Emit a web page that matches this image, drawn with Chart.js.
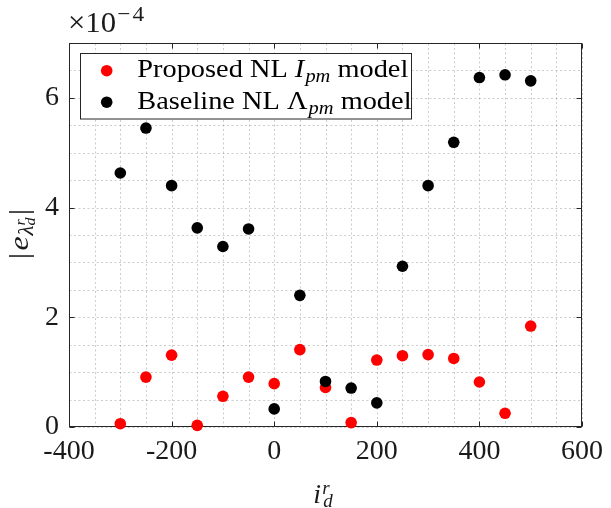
<!DOCTYPE html>
<html><head><meta charset="utf-8">
<script src="https://cdn.jsdelivr.net/npm/chart.js@4.4.0/dist/chart.umd.min.js"></script>
<style>html,body{margin:0;padding:0;background:#fff;}canvas{display:block;}</style>
</head><body>
<canvas id="c" width="611" height="508"></canvas>
<script>
// ---- data (values in units of 1e-4) ----
const currents = [-300,-250,-200,-150,-100,-50,0,50,100,150,200,250,300,350,400,450,500];
const proposedErr = [0.06,0.91,1.31,0.03,0.56,0.91,0.79,1.41,0.72,0.08,1.22,1.30,1.32,1.25,0.82,0.25,1.84];
const baselineErr = [4.63,5.45,4.40,3.63,3.29,3.61,0.33,2.40,0.83,0.71,0.44,2.93,4.40,5.19,6.37,6.42,6.31];
const xMajorTicks = [-400,-200,0,200,400,600];
const yMajorTicks = [0,2,4,6];
const exponentBase = '×10';
const exponentPower = ['−', '4'];
const seriesNames = ['Proposed NL', 'Baseline NL'];

const SERIF = '"Liberation Serif"';
const R = s => s + 'px ' + SERIF;
const I = s => 'italic ' + s + 'px ' + SERIF;
const AXIS_COLOR = '#262626';

function segWidth(ctx, segs){
  let w = 0;
  for (const s of segs){
    ctx.font = s.f;
    let sw = ctx.measureText(s.t).width;
    if (s.alt){ ctx.font = s.alt.f; sw = Math.max(sw, ctx.measureText(s.alt.t).width + (s.alt.dx||0)); }
    w += sw + (s.k||0);
  }
  return w;
}
function drawSegs(ctx, segs, x, y, sx){
  ctx.save();
  ctx.translate(x, y);
  ctx.scale(sx, 1);
  let cx = 0;
  for (const s of segs){
    ctx.font = s.f;
    ctx.fillText(s.t, cx, s.dy||0);
    let sw = ctx.measureText(s.t).width;
    if (s.alt){
      ctx.font = s.alt.f;
      ctx.fillText(s.alt.t, cx + (s.alt.dx||0), s.alt.dy||0);
      sw = Math.max(sw, ctx.measureText(s.alt.t).width + (s.alt.dx||0));
    }
    cx += sw + (s.k||0);
  }
  ctx.restore();
}

const decor = {
  id: 'decor',
  beforeDatasetsDraw(chart){
    const ctx = chart.ctx, a = chart.chartArea;
    const xs = chart.scales.x, ys = chart.scales.y;
    const L = Math.round(a.left)+0.5, Rr = Math.round(a.right)-0.5, T = Math.round(a.top)+0.5, B = Math.round(a.bottom)-0.5;
    ctx.save();
    ctx.strokeStyle = 'rgba(0,0,0,0.2)'; ctx.lineWidth = 1; ctx.setLineDash([2,2.5]);
    ctx.beginPath();
    for (const t of xs.ticks){
      const p = Math.round(xs.getPixelForValue(t.value)) + 0.5;
      ctx.moveTo(p, T); ctx.lineTo(p, B);
    }
    for (const t of ys.ticks){
      const p = Math.round(ys.getPixelForValue(t.value)) + 0.5;
      ctx.moveTo(L, p); ctx.lineTo(Rr, p);
    }
    ctx.stroke();
    ctx.setLineDash([]);
    ctx.strokeStyle = AXIS_COLOR; ctx.lineWidth = 1;
    ctx.strokeRect(L, T, Rr-L, B-T);
    ctx.beginPath();
    const tl = 5;
    for (const v of xMajorTicks){
      const p = Math.round(xs.getPixelForValue(v)) + 0.5;
      ctx.moveTo(p, B); ctx.lineTo(p, B - tl);
      ctx.moveTo(p, T); ctx.lineTo(p, T + tl);
    }
    for (const v of yMajorTicks){
      const p = Math.round(ys.getPixelForValue(v)) + 0.5;
      ctx.moveTo(L, p); ctx.lineTo(L + tl, p);
      ctx.moveTo(Rr, p); ctx.lineTo(Rr - tl, p);
    }
    ctx.stroke();
    ctx.restore();
  },
  afterDatasetsDraw(chart){
    const ctx = chart.ctx;
    ctx.save();
    const bx = 80.5, by = 53.5, bw = 331, bh = 65.5;
    ctx.fillStyle = '#fff'; ctx.fillRect(bx, by, bw, bh);
    ctx.strokeStyle = AXIS_COLOR; ctx.lineWidth = 1; ctx.strokeRect(bx, by, bw, bh);
    const colors = ['#ff0000', '#000000'];
    const my = [70.7, 102.2];
    const rows = [
      [{t: seriesNames[0] + ' ', f: R(25)}, {t:'I', f: I(25), k:1}, {t:'pm', f: I(18), dy: 5}, {t:' model', f: R(25)}],
      [{t: seriesNames[1] + ' ', f: R(25)}, {t:'Λ', f: R(25), k:1}, {t:'pm', f: I(18), dy: 5}, {t:' model', f: R(25)}]
    ];
    const sx = 271 / segWidth(ctx, rows[0]);
    for (let i=0;i<2;i++){
      ctx.fillStyle = colors[i];
      ctx.beginPath(); ctx.arc(106.7, my[i], 5.8, 0, Math.PI*2); ctx.fill();
      ctx.fillStyle = '#000';
      ctx.textBaseline = 'alphabetic'; ctx.textAlign = 'left';
      drawSegs(ctx, rows[i], 137.3, my[i] + 6.3, sx);
    }
    ctx.restore();
  },
  afterDraw(chart){
    const ctx = chart.ctx;
    ctx.save();
    ctx.fillStyle = '#1a1a1a';
    ctx.textBaseline = 'alphabetic'; ctx.textAlign = 'left';
    drawSegs(ctx, [{t: exponentBase, f: R(29), k: 1}, {t: exponentPower[0], f: R(22), dy: -11, k: 2}, {t: exponentPower[1], f: R(22), dy: -11}], 68, 31.7, 1.06);
    const xt = [{t:'i', f: I(28), k: 1}, {t:'r', f: I(19), dy: -9, alt: {t:'d', f: I(19), dy: 4, dx: 1}}];
    const xw = segWidth(ctx, xt);
    drawSegs(ctx, xt, 323 - xw/2, 503, 1);
    const yt = [{t:'|', f: R(28), k: 2}, {t:'e', f: I(28), k: 0.5}, {t:'λ', f: I(20), dy: 5, k: 0},
                {t:'r', f: I(14), dy: -3, alt: {t:'d', f: I(14), dy: 7}, k: 2}, {t:'|', f: R(28)}];
    const yw = segWidth(ctx, yt);
    ctx.translate(28, 234);
    ctx.rotate(-Math.PI/2);
    drawSegs(ctx, yt, -yw*1.15/2, 0, 1.15);
    ctx.restore();
  }
};

const chart = new Chart(document.getElementById('c'), {
  type: 'scatter',
  data: {
    datasets: [
      { label: 'Proposed NL I_pm model', data: currents.map((x,i)=>({x, y: proposedErr[i]})),
        backgroundColor: '#ff0000', borderColor: '#ff0000', pointRadius: 5.8, pointBorderWidth: 0, order: 1, clip: false },
      { label: 'Baseline NL Λ_pm model', data: currents.map((x,i)=>({x, y: baselineErr[i]})),
        backgroundColor: '#000000', borderColor: '#000000', pointRadius: 5.8, pointBorderWidth: 0, order: 0, clip: false }
    ]
  },
  options: {
    responsive: false, animation: false, events: [],
    devicePixelRatio: 1,
    layout: { padding: { left: 0, right: 22.5, top: 43, bottom: 0 } },
    plugins: { legend: { display: false }, tooltip: { enabled: false } },
    scales: {
      x: {
        type: 'linear', min: -400, max: 600,
        afterFit: s => { s.height = 81; },
        border: { display: false },
        grid: { display: false, drawTicks: false },
        ticks: { stepSize: 50, autoSkip: false, maxRotation: 0, minRotation: 0, padding: 8,
                 color: '#1a1a1a', font: { family: SERIF, size: 28 },
                 callback: v => xMajorTicks.includes(v) ? String(v) : '' }
      },
      y: {
        type: 'linear', min: 0, max: 7,
        afterFit: s => { s.width = 69; },
        border: { display: false },
        grid: { display: false, drawTicks: false },
        ticks: { stepSize: 0.5, autoSkip: false, padding: 10,
                 color: '#1a1a1a', font: { family: SERIF, size: 28 },
                 callback: v => yMajorTicks.includes(v) ? String(v) : '' }
      }
    }
  },
  plugins: [decor]
});
if (document.fonts && document.fonts.load) {
  Promise.all([R(28), I(28), R(29), R(22), I(19), I(14), R(25), I(25), I(18)].map(f => document.fonts.load(f, 'ABCλΛ×−0')))
    .then(() => chart.update()).catch(() => {});
}
</script>
</body></html>
